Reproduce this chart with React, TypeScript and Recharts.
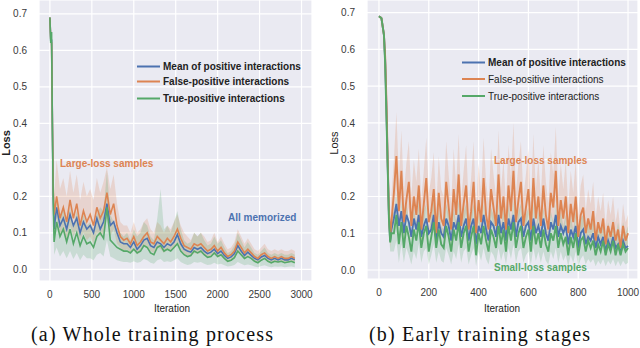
import React from 'react';
import { ComposedChart, Line, Area, XAxis, YAxis, CartesianGrid } from 'recharts';

const BLUE = '#4C72B0';
const ORANGE = '#DD8452';
const GREEN = '#55A868';
const FONT = '"Liberation Sans", Arial, sans-serif';

const yTicks = [0, 0.1, 0.2, 0.3, 0.4, 0.5, 0.6, 0.7];
const leftXTicks = [0, 500, 1000, 1500, 2000, 2500, 3000];
const rightXTicks = [0, 200, 400, 600, 800, 1000];

const legendLabels = ['Mean of positive interactions', 'False-positive interactions', 'True-positive interactions'];

// ---------- (a) whole training process ----------
const leftIter = [
  0, 10, 20, 30, 40, 50,
  80, 120, 160, 200, 240, 280, 320, 360, 400, 440,
  480, 520, 560, 600, 640, 680, 720, 760, 800, 840,
  880, 920, 960, 1000, 1040, 1080, 1120, 1160, 1200, 1240,
  1280, 1320, 1360, 1400, 1440, 1480, 1520, 1560, 1600, 1640,
  1680, 1720, 1760, 1800, 1840, 1880, 1920, 1960, 2000, 2040,
  2080, 2120, 2160, 2200, 2240, 2280, 2320, 2360, 2400, 2440,
  2480, 2520, 2560, 2600, 2640, 2680, 2720, 2760, 2800, 2840,
  2880, 2920,
];
const leftFp = [
  0.69, 0.63, 0.62, 0.40, 0.22, 0.15,
  0.20, 0.14, 0.17, 0.13, 0.19, 0.14, 0.18, 0.12, 0.16, 0.13,
  0.15, 0.12, 0.17, 0.14, 0.16, 0.21, 0.15, 0.18, 0.12, 0.09,
  0.08, 0.085, 0.07, 0.09, 0.065, 0.075, 0.09, 0.1, 0.075, 0.07,
  0.09, 0.08, 0.07, 0.085, 0.075, 0.09, 0.11, 0.085, 0.065, 0.06,
  0.055, 0.07, 0.065, 0.07, 0.06, 0.05, 0.055, 0.065, 0.05, 0.06,
  0.045, 0.035, 0.04, 0.05, 0.075, 0.06, 0.045, 0.055, 0.045, 0.035,
  0.03, 0.04, 0.045, 0.035, 0.03, 0.035, 0.03, 0.035, 0.03, 0.03,
  0.035, 0.03,
];
const leftMean = [
  0.69, 0.625, 0.63, 0.39, 0.2, 0.11,
  0.17, 0.12, 0.14, 0.11, 0.15, 0.12, 0.14, 0.1, 0.13, 0.11,
  0.12, 0.1, 0.14, 0.11, 0.13, 0.18, 0.12, 0.13, 0.1, 0.075,
  0.07, 0.07, 0.06, 0.075, 0.055, 0.065, 0.08, 0.085, 0.065, 0.06,
  0.075, 0.07, 0.06, 0.07, 0.065, 0.075, 0.095, 0.07, 0.055, 0.05,
  0.047, 0.06, 0.055, 0.06, 0.05, 0.043, 0.047, 0.055, 0.043, 0.05,
  0.038, 0.03, 0.034, 0.043, 0.065, 0.05, 0.038, 0.047, 0.038, 0.03,
  0.026, 0.034, 0.038, 0.03, 0.026, 0.03, 0.026, 0.03, 0.026, 0.026,
  0.03, 0.026,
];
const leftTp = [
  0.69, 0.62, 0.65, 0.38, 0.18, 0.075,
  0.13, 0.09, 0.11, 0.075, 0.11, 0.07, 0.1, 0.065, 0.09, 0.07,
  0.075, 0.06, 0.09, 0.1, 0.085, 0.17, 0.08, 0.07, 0.06, 0.055,
  0.05, 0.05, 0.045, 0.055, 0.045, 0.05, 0.065, 0.06, 0.045, 0.04,
  0.06, 0.065, 0.05, 0.055, 0.05, 0.06, 0.07, 0.05, 0.04, 0.035,
  0.038, 0.05, 0.045, 0.05, 0.04, 0.033, 0.035, 0.045, 0.035, 0.04,
  0.03, 0.022, 0.025, 0.032, 0.05, 0.04, 0.03, 0.035, 0.03, 0.022,
  0.018, 0.025, 0.03, 0.022, 0.018, 0.022, 0.02, 0.022, 0.018, 0.02,
  0.022, 0.018,
];
const leftFpHi = [
  0.69, 0.64, 0.63, 0.42, 0.26, 0.2,
  0.3, 0.22, 0.25, 0.2, 0.27, 0.21, 0.26, 0.19, 0.24, 0.2,
  0.22, 0.19, 0.25, 0.21, 0.24, 0.28, 0.22, 0.26, 0.18, 0.13,
  0.12, 0.12, 0.1, 0.13, 0.1, 0.11, 0.13, 0.14, 0.11, 0.1,
  0.13, 0.12, 0.1, 0.12, 0.11, 0.13, 0.15, 0.12, 0.1, 0.09,
  0.08, 0.1, 0.09, 0.1, 0.09, 0.075, 0.08, 0.1, 0.075, 0.09,
  0.07, 0.055, 0.06, 0.075, 0.11, 0.09, 0.07, 0.085, 0.07, 0.055,
  0.05, 0.06, 0.07, 0.055, 0.05, 0.055, 0.05, 0.055, 0.05, 0.05,
  0.055, 0.05,
];
const leftFpLo = [
  0.69, 0.62, 0.6, 0.37, 0.18, 0.1,
  0.14, 0.09, 0.11, 0.08, 0.12, 0.09, 0.11, 0.08, 0.1, 0.08,
  0.09, 0.07, 0.1, 0.09, 0.1, 0.14, 0.09, 0.11, 0.07, 0.06,
  0.05, 0.055, 0.045, 0.06, 0.04, 0.05, 0.06, 0.065, 0.05, 0.045,
  0.06, 0.055, 0.045, 0.055, 0.05, 0.06, 0.075, 0.055, 0.042, 0.038,
  0.035, 0.045, 0.042, 0.045, 0.038, 0.032, 0.035, 0.042, 0.032, 0.038,
  0.028, 0.02, 0.024, 0.03, 0.05, 0.038, 0.028, 0.035, 0.028, 0.02,
  0.017, 0.024, 0.028, 0.02, 0.017, 0.02, 0.017, 0.02, 0.017, 0.017,
  0.02, 0.017,
];
const leftTpHi = [
  0.69, 0.63, 0.66, 0.4, 0.21, 0.12,
  0.2, 0.15, 0.17, 0.13, 0.17, 0.12, 0.16, 0.12, 0.15, 0.12,
  0.13, 0.11, 0.15, 0.17, 0.16, 0.27, 0.15, 0.13, 0.11, 0.1,
  0.09, 0.1, 0.08, 0.11, 0.09, 0.1, 0.13, 0.12, 0.09, 0.08,
  0.14, 0.22, 0.11, 0.12, 0.1, 0.13, 0.16, 0.11, 0.08, 0.07,
  0.075, 0.1, 0.09, 0.1, 0.08, 0.065, 0.07, 0.09, 0.07, 0.08,
  0.06, 0.045, 0.05, 0.065, 0.1, 0.08, 0.06, 0.075, 0.06, 0.045,
  0.04, 0.05, 0.06, 0.045, 0.04, 0.045, 0.04, 0.045, 0.04, 0.04,
  0.045, 0.04,
];
const leftTpLo = [
  0.69, 0.61, 0.63, 0.35, 0.14, 0.04,
  0.06, 0.035, 0.05, 0.03, 0.05, 0.028, 0.045, 0.025, 0.04, 0.03,
  0.03, 0.025, 0.04, 0.045, 0.035, 0.08, 0.035, 0.03, 0.025, 0.022,
  0.02, 0.02, 0.018, 0.022, 0.018, 0.02, 0.028, 0.025, 0.018, 0.015,
  0.025, 0.028, 0.02, 0.022, 0.02, 0.025, 0.03, 0.02, 0.015, 0.012,
  0.014, 0.02, 0.018, 0.02, 0.015, 0.012, 0.013, 0.018, 0.013, 0.015,
  0.011, 0.008, 0.009, 0.012, 0.02, 0.015, 0.011, 0.013, 0.011, 0.008,
  0.006, 0.009, 0.011, 0.008, 0.006, 0.008, 0.007, 0.008, 0.006, 0.007,
  0.008, 0.006,
];

// ---------- (b) early training stages ----------
const rightIter = [
  0, 10, 20, 25, 30, 35, 40, 45, 50,
  60, 70, 80, 90, 100, 110, 120, 130, 140, 150,
  160, 170, 180, 190, 200, 210, 220, 230, 240, 250,
  260, 270, 280, 290, 300, 310, 320, 330, 340, 350,
  360, 370, 380, 390, 400, 410, 420, 430, 440, 450,
  460, 470, 480, 490, 500, 510, 520, 530, 540, 550,
  560, 570, 580, 590, 600, 610, 620, 630, 640, 650,
  660, 670, 680, 690, 700, 710, 720, 730, 740, 750,
  760, 770, 780, 790, 800, 810, 820, 830, 840, 850,
  860, 870, 880, 890, 900, 910, 920, 930, 940, 950,
  960, 970, 980, 990, 1000,
];
const rightFp = [
  0.69, 0.685, 0.64, 0.58, 0.46, 0.3, 0.16, 0.09, 0.13,
  0.21, 0.31, 0.16, 0.27, 0.13, 0.19, 0.24, 0.12, 0.2, 0.15,
  0.23, 0.11, 0.18, 0.25, 0.13, 0.16, 0.22, 0.1, 0.21, 0.14,
  0.12, 0.24, 0.17, 0.11, 0.22, 0.15, 0.26, 0.12, 0.18, 0.23,
  0.11, 0.16, 0.24, 0.1, 0.19, 0.13, 0.25, 0.15, 0.11, 0.22,
  0.17, 0.12, 0.26, 0.14, 0.2, 0.11, 0.23, 0.16, 0.27, 0.13,
  0.19, 0.24, 0.12, 0.17, 0.22, 0.11, 0.25, 0.14, 0.2, 0.12,
  0.23, 0.15, 0.11, 0.21, 0.17, 0.27, 0.12, 0.19, 0.14, 0.2,
  0.1, 0.18, 0.13, 0.2, 0.09, 0.15, 0.17, 0.1, 0.14, 0.11,
  0.16, 0.08, 0.13, 0.1, 0.14, 0.07, 0.12, 0.09, 0.13, 0.08,
  0.11, 0.06, 0.12, 0.08, 0.1,
];
const rightMean = [
  0.69, 0.685, 0.64, 0.57, 0.44, 0.29, 0.15, 0.08, 0.11,
  0.14, 0.18, 0.12, 0.16, 0.1, 0.15, 0.13, 0.09, 0.14, 0.11,
  0.15, 0.09, 0.12, 0.14, 0.1, 0.11, 0.15, 0.08, 0.13, 0.1,
  0.09, 0.14, 0.12, 0.08, 0.13, 0.11, 0.15, 0.09, 0.12, 0.14,
  0.08, 0.12, 0.14, 0.07, 0.12, 0.1, 0.15, 0.11, 0.08, 0.13,
  0.12, 0.09, 0.15, 0.1, 0.13, 0.08, 0.14, 0.11, 0.15, 0.09,
  0.13, 0.14, 0.09, 0.12, 0.13, 0.08, 0.14, 0.1, 0.12, 0.09,
  0.14, 0.1, 0.08, 0.13, 0.11, 0.15, 0.09, 0.12, 0.1, 0.12,
  0.07, 0.11, 0.09, 0.12, 0.06, 0.1, 0.11, 0.07, 0.09, 0.08,
  0.1, 0.06, 0.09, 0.07, 0.09, 0.05, 0.08, 0.06, 0.09, 0.06,
  0.07, 0.045, 0.08, 0.06, 0.065,
];
const rightTp = [
  0.69, 0.685, 0.64, 0.56, 0.42, 0.28, 0.14, 0.075, 0.1,
  0.1, 0.15, 0.07, 0.13, 0.06, 0.12, 0.09, 0.05, 0.11, 0.08,
  0.13, 0.06, 0.1, 0.12, 0.05, 0.09, 0.13, 0.06, 0.11, 0.07,
  0.06, 0.12, 0.09, 0.05, 0.11, 0.08, 0.13, 0.06, 0.1, 0.12,
  0.05, 0.09, 0.12, 0.04, 0.1, 0.07, 0.12, 0.08, 0.05, 0.11,
  0.09, 0.06, 0.12, 0.07, 0.11, 0.05, 0.12, 0.08, 0.13, 0.06,
  0.1, 0.12, 0.06, 0.09, 0.11, 0.05, 0.12, 0.07, 0.1, 0.06,
  0.11, 0.07, 0.05, 0.1, 0.08, 0.12, 0.06, 0.1, 0.07, 0.09,
  0.04, 0.09, 0.06, 0.1, 0.04, 0.08, 0.09, 0.05, 0.08, 0.06,
  0.08, 0.04, 0.07, 0.05, 0.08, 0.04, 0.07, 0.05, 0.08, 0.04,
  0.07, 0.04, 0.07, 0.05, 0.06,
];
const rightFpHi = [
  0.69, 0.69, 0.65, 0.6, 0.5, 0.34, 0.2, 0.14, 0.2,
  0.3, 0.43, 0.25, 0.38, 0.21, 0.29, 0.35, 0.2, 0.3, 0.24,
  0.33, 0.19, 0.27, 0.36, 0.21, 0.25, 0.32, 0.17, 0.31, 0.22,
  0.2, 0.35, 0.26, 0.18, 0.33, 0.23, 0.37, 0.19, 0.27, 0.34,
  0.18, 0.25, 0.35, 0.17, 0.29, 0.21, 0.36, 0.24, 0.18, 0.33,
  0.26, 0.2, 0.38, 0.22, 0.3, 0.18, 0.34, 0.25, 0.4, 0.21,
  0.29, 0.35, 0.2, 0.26, 0.33, 0.18, 0.37, 0.22, 0.3, 0.2,
  0.34, 0.24, 0.18, 0.32, 0.26, 0.39, 0.2, 0.29, 0.22, 0.3,
  0.17, 0.27, 0.21, 0.3, 0.15, 0.23, 0.26, 0.16, 0.22, 0.18,
  0.24, 0.14, 0.2, 0.16, 0.21, 0.12, 0.19, 0.15, 0.2, 0.13,
  0.17, 0.1, 0.18, 0.13, 0.15,
];
const rightFpLo = [
  0.69, 0.68, 0.63, 0.56, 0.42, 0.26, 0.13, 0.06, 0.09,
  0.15, 0.22, 0.11, 0.19, 0.09, 0.13, 0.17, 0.08, 0.14, 0.1,
  0.16, 0.07, 0.12, 0.18, 0.09, 0.11, 0.15, 0.07, 0.15, 0.1,
  0.08, 0.17, 0.12, 0.07, 0.15, 0.1, 0.18, 0.08, 0.12, 0.16,
  0.07, 0.11, 0.17, 0.07, 0.13, 0.09, 0.18, 0.1, 0.07, 0.15,
  0.12, 0.08, 0.18, 0.09, 0.14, 0.07, 0.16, 0.11, 0.19, 0.09,
  0.13, 0.17, 0.08, 0.12, 0.15, 0.07, 0.18, 0.09, 0.14, 0.08,
  0.16, 0.1, 0.07, 0.15, 0.12, 0.19, 0.08, 0.13, 0.09, 0.14,
  0.06, 0.12, 0.09, 0.14, 0.06, 0.1, 0.12, 0.07, 0.1, 0.07,
  0.11, 0.05, 0.09, 0.07, 0.1, 0.05, 0.08, 0.06, 0.09, 0.05,
  0.07, 0.04, 0.08, 0.05, 0.07,
];
const rightTpHi = [
  0.69, 0.69, 0.65, 0.58, 0.45, 0.31, 0.18, 0.12, 0.15,
  0.16, 0.21, 0.12, 0.19, 0.11, 0.18, 0.14, 0.1, 0.17, 0.13,
  0.19, 0.11, 0.16, 0.18, 0.1, 0.15, 0.19, 0.11, 0.17, 0.12,
  0.11, 0.18, 0.15, 0.1, 0.17, 0.13, 0.19, 0.11, 0.16, 0.18,
  0.1, 0.15, 0.18, 0.09, 0.16, 0.12, 0.18, 0.13, 0.1, 0.17,
  0.15, 0.11, 0.18, 0.12, 0.17, 0.1, 0.18, 0.13, 0.19, 0.11,
  0.16, 0.18, 0.11, 0.15, 0.17, 0.1, 0.18, 0.12, 0.16, 0.11,
  0.17, 0.12, 0.1, 0.16, 0.13, 0.18, 0.11, 0.16, 0.12, 0.15,
  0.09, 0.15, 0.11, 0.16, 0.09, 0.14, 0.15, 0.1, 0.14, 0.11,
  0.14, 0.09, 0.13, 0.1, 0.14, 0.09, 0.13, 0.1, 0.14, 0.09,
  0.13, 0.09, 0.13, 0.1, 0.12,
];
const rightTpLo = [
  0.69, 0.68, 0.63, 0.54, 0.39, 0.25, 0.11, 0.05, 0.05,
  0.05, 0.08, 0.02, 0.07, 0.02, 0.06, 0.04, 0.015, 0.05, 0.03,
  0.07, 0.02, 0.05, 0.06, 0.015, 0.04, 0.07, 0.02, 0.05, 0.025,
  0.02, 0.06, 0.04, 0.015, 0.05, 0.03, 0.07, 0.02, 0.05, 0.06,
  0.015, 0.04, 0.06, 0.01, 0.05, 0.025, 0.06, 0.03, 0.015, 0.05,
  0.04, 0.02, 0.06, 0.025, 0.05, 0.015, 0.06, 0.03, 0.07, 0.02,
  0.05, 0.06, 0.02, 0.04, 0.05, 0.015, 0.06, 0.025, 0.05, 0.02,
  0.05, 0.025, 0.015, 0.05, 0.03, 0.06, 0.02, 0.05, 0.025, 0.04,
  0.01, 0.04, 0.02, 0.05, 0.01, 0.03, 0.04, 0.015, 0.03, 0.02,
  0.03, 0.01, 0.025, 0.015, 0.03, 0.01, 0.025, 0.015, 0.03, 0.01,
  0.025, 0.01, 0.025, 0.015, 0.02,
];

function build(iter: number[], fp: number[], mean: number[], tp: number[], fpHi: number[], fpLo: number[], tpHi: number[], tpLo: number[]) {
  return iter.map((x, i) => ({
    x,
    fp: fp[i],
    mean: mean[i],
    tp: tp[i],
    fpBand: [fpLo[i], fpHi[i]],
    tpBand: [tpLo[i], tpHi[i]],
  }));
}

const leftData = build(leftIter, leftFp, leftMean, leftTp, leftFpHi, leftFpLo, leftTpHi, leftTpLo);
const rightData = build(rightIter, rightFp, rightMean, rightTp, rightFpHi, rightFpLo, rightTpHi, rightTpLo);

type PanelProps = {
  data: any[];
  left: number;
  width: number;
  height: number;
  yAxisWidth: number;
  marginRight: number;
  xAxisHeight: number;
  xDomain: [number, number];
  yDomain: [number, number];
  xTicks: number[];
  lineWidth: number;
};

function Panel(p: PanelProps) {
  const tickStyle = { fontSize: 10, fill: '#3a3a3a', fontFamily: FONT };
  return (
    <div style={{ position: 'absolute', left: p.left, top: 0 }}>
      <ComposedChart width={p.width} height={p.height} data={p.data} margin={{ top: 0, right: p.marginRight, bottom: 0, left: 0 }}>
        <CartesianGrid fill="#EAEAF2" stroke="#ffffff" strokeWidth={1.2} />
        <XAxis dataKey="x" type="number" domain={p.xDomain} ticks={p.xTicks} allowDataOverflow axisLine={false} tickLine={false} tick={tickStyle} height={p.xAxisHeight} interval={0} tickMargin={4} />
        <YAxis type="number" domain={p.yDomain} ticks={yTicks} allowDataOverflow axisLine={false} tickLine={false} tick={tickStyle} width={p.yAxisWidth} interval={0} tickMargin={6} tickFormatter={(v: number) => v.toFixed(1)} />
        <Area type="linear" dataKey="fpBand" fill={ORANGE} fillOpacity={0.22} stroke="none" isAnimationActive={false} />
        <Area type="linear" dataKey="tpBand" fill={GREEN} fillOpacity={0.22} stroke="none" isAnimationActive={false} />
        <Line type="linear" dataKey="mean" stroke={BLUE} strokeWidth={p.lineWidth} dot={false} isAnimationActive={false} />
        <Line type="linear" dataKey="fp" stroke={ORANGE} strokeWidth={p.lineWidth} dot={false} isAnimationActive={false} />
        <Line type="linear" dataKey="tp" stroke={GREEN} strokeWidth={p.lineWidth} dot={false} isAnimationActive={false} />
      </ComposedChart>
    </div>
  );
}

function LegendBlock({ x, ys, textX, boldAll }: { x: [number, number]; ys: number[]; textX: number; boldAll: boolean }) {
  const colors = [BLUE, ORANGE, GREEN];
  return (
    <g>
      {legendLabels.map((lab, i) => (
        <g key={lab}>
          <line x1={x[0]} x2={x[1]} y1={ys[i]} y2={ys[i]} stroke={colors[i]} strokeWidth={2} />
          <text x={textX} y={ys[i]} dominantBaseline="central" fontSize={10} fontFamily={FONT} fill="#222" fontWeight={boldAll || i === 0 ? 'bold' : 'normal'}>{lab}</text>
        </g>
      ))}
    </g>
  );
}

export default function App() {
  return (
    <div style={{ position: 'absolute', left: 0, top: 0, width: 640, height: 348, background: '#fff', overflow: 'hidden' }}>
      <Panel data={leftData} left={0} width={320} height={310} yAxisWidth={39} marginRight={8} xAxisHeight={29} xDomain={[-130, 3125]} yDomain={[-0.032, 0.738]} xTicks={leftXTicks} lineWidth={1.6} />
      <Panel data={rightData} left={320} width={320} height={310} yAxisWidth={47} marginRight={2} xAxisHeight={31} xDomain={[-48, 1040]} yDomain={[-0.0245, 0.7345]} xTicks={rightXTicks} lineWidth={1.9} />
      <svg width={640} height={348} style={{ position: 'absolute', left: 0, top: 0, pointerEvents: 'none' }}>
        <text x={6} y={143} transform="rotate(-90 6 143)" textAnchor="middle" dominantBaseline="central" fontSize={11} fontWeight="bold" fontFamily={FONT} fill="#222">Loss</text>
        <text x={334} y={143} transform="rotate(-90 334 143)" textAnchor="middle" dominantBaseline="central" fontSize={11} fontFamily={FONT} fill="#222">Loss</text>
        <text x={172} y={308} textAnchor="middle" dominantBaseline="central" fontSize={10} fontFamily={FONT} fill="#222">Iteration</text>
        <text x={502} y={308} textAnchor="middle" dominantBaseline="central" fontSize={10} fontFamily={FONT} fill="#222">Iteration</text>
        <LegendBlock x={[137, 160]} ys={[66.5, 81.5, 98.5]} textX={163} boldAll={true} />
        <LegendBlock x={[462, 485]} ys={[62.5, 79, 96]} textX={488} boldAll={false} />
        <text x={60} y={163} dominantBaseline="central" fontSize={10} fontWeight="bold" fontFamily={FONT} fill={ORANGE}>Large-loss samples</text>
        <text x={228} y={217} dominantBaseline="central" fontSize={10} fontWeight="bold" fontFamily={FONT} fill={BLUE}>All memorized</text>
        <text x={494} y={160} dominantBaseline="central" fontSize={10} fontWeight="bold" fontFamily={FONT} fill={ORANGE}>Large-loss samples</text>
        <text x={494} y={267} dominantBaseline="central" fontSize={10} fontWeight="bold" fontFamily={FONT} fill={GREEN}>Small-loss samples</text>
        <text x={31} y={341} fontSize={20} fontFamily='"Liberation Serif", "Times New Roman", serif' fill="#111" textLength={242} lengthAdjust="spacing">(a) Whole training process</text>
        <text x={369} y={341} fontSize={20} fontFamily='"Liberation Serif", "Times New Roman", serif' fill="#111" textLength={221} lengthAdjust="spacing">(b) Early training stages</text>
      </svg>
    </div>
  );
}
